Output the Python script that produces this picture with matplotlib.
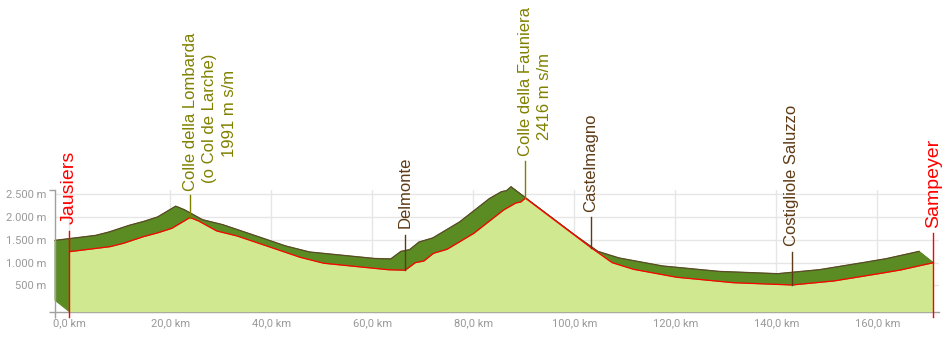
import numpy as np
import matplotlib
matplotlib.use("Agg")
import matplotlib.pyplot as plt
from matplotlib import transforms
from matplotlib.collections import PolyCollection

# ---------------- data ----------------
dist_km = [0.0, 8.05, 10.7, 14.65, 17.6, 20.3, 23.9, 25.6, 29.2, 33.2, 39.1, 45.7,
           50.4, 63.2, 66.5, 68.5, 70.2, 72.1, 74.8, 80.1, 86.0, 88.4, 89.4, 90.3,
           103.2, 107.5, 111.7, 120.3, 131.5, 143.1, 151.4, 159.9, 164.6, 171.1]
elev_m = [1241, 1351, 1425, 1570, 1658, 1754, 1991, 1914, 1695, 1586, 1366, 1118,
          987, 845, 835, 1000, 1037, 1206, 1294, 1645, 2156, 2309, 2331, 2416,
          1338, 1000, 855, 680, 561, 511, 599, 752, 840, 1000]

x_ticks_km = [0, 20, 40, 60, 80, 100, 120, 140, 160]
y_ticks_m = [500, 1000, 1500, 2000, 2500]

place_names = ["Jausiers",
               ["Colle della Lombarda", "(o Col de Larche)", "1991 m s/m"],
               "Delmonte",
               ["Colle della Fauniera", "2416 m s/m"],
               "Castelmagno",
               "Costigliole Saluzzo",
               "Sampeyer"]
place_km = [0.0, 24.0, 66.5, 90.3, 103.3, 143.1, 171.1]

# ---------------- style / layout ----------------
W, H, DPI = 953, 342, 100
LIGHT = "#d0e88f"
DARK = "#5b8b23"
EDGE = "#5a4a28"
RED = "#ff0000"
OLIVE = "#808000"
BROWN = "#5e3b17"
GRID = "#e6e6e6"
AXC = "#a0a0a0"
TICKC = "#999999"

# per label: color, fontsize, text-bottom pixel(s) (from top), line top pixel, line to bottom?
label_layout = [
    dict(color=RED, size=14, bottoms=[224.5], line_top=230.5, to_base=True),
    dict(color=OLIVE, size=12, bottoms=[191, 183, 157], line_top=195, to_base=False),
    dict(color=BROWN, size=12, bottoms=[228.5], line_top=235, to_base=False),
    dict(color=OLIVE, size=12, bottoms=[156, 140], line_top=161, to_base=False),
    dict(color=BROWN, size=12, bottoms=[212], line_top=217, to_base=False),
    dict(color=BROWN, size=12, bottoms=[245.5], line_top=251.5, to_base=False),
    dict(color=RED, size=14, bottoms=[228.5], line_top=233, to_base=True),
]
LINE_STEP_PX = 19.3

XLIM = (-2.83, 172.28)
YLIM = (-75, 2594)
SHIFT_X, SHIFT_Y = -2.83, 248

fig = plt.figure(figsize=(W / DPI, H / DPI), dpi=DPI)
ax = fig.add_axes([55 / W, (H - 311.7) / H, (939.3 - 55) / W, (311.7 - 190) / H])
ax.set_xlim(*XLIM)
ax.set_ylim(*YLIM)

x = np.asarray(dist_km, float)
y = np.asarray(elev_m, float)
y0 = YLIM[0]

# grid
ax.set_xticks(x_ticks_km)
ax.set_yticks(y_ticks_m)
ax.grid(True, color=GRID, lw=1, zorder=0)
ax.set_axisbelow(True)

# extruded (dark) band
quads = []
for i in range(len(x) - 1):
    quads.append([(x[i], y[i]), (x[i + 1], y[i + 1]),
                  (x[i + 1] + SHIFT_X, y[i + 1] + SHIFT_Y), (x[i] + SHIFT_X, y[i] + SHIFT_Y)])
quads.append([(x[0], y0), (x[0], y[0]), (x[0] + SHIFT_X, y[0] + SHIFT_Y), (x[0] + SHIFT_X, y0 + SHIFT_Y)])
quads.append([(x[-1], y0), (x[-1], y[-1]), (x[-1] + SHIFT_X, y[-1] + SHIFT_Y), (x[-1] + SHIFT_X, y0 + SHIFT_Y)])
ax.fill_between(x + SHIFT_X, y0 + SHIFT_Y, y + SHIFT_Y, color=DARK, lw=0.5, zorder=1, clip_on=False)
ax.add_collection(PolyCollection(quads, facecolor=DARK, edgecolor=DARK, linewidth=0.6,
                                 zorder=1, clip_on=False))
ax.plot(x + SHIFT_X, y + SHIFT_Y, color=EDGE, lw=0.9, zorder=2, clip_on=False)

# main profile
ax.fill_between(x, y0, y, color=LIGHT, lw=0, zorder=3)
ax.plot(x, y, color=RED, lw=0.9, zorder=4)

# spines / ticks
for s in ("top", "right"):
    ax.spines[s].set_visible(False)
for s in ("left", "bottom"):
    ax.spines[s].set_color(AXC)
    ax.spines[s].set_linewidth(1)
ax.tick_params(axis="both", which="major", length=0, labelcolor=TICKC, labelsize=8)
ax.tick_params(axis="y", pad=6)
ax.tick_params(axis="x", pad=5)
ax.set_yticks([YLIM[0], YLIM[1]], minor=True)
ax.set_xticks([XLIM[0]], minor=True)
ax.tick_params(which="minor", length=4, color=AXC, width=1)
ax.set_yticklabels([f"{v:,.0f}".replace(",", ".") + " m" for v in y_ticks_m], family="Roboto")
ax.set_xticklabels([f"{v:.1f}".replace(".", ",") + " km" for v in x_ticks_km], family="Roboto")

# place labels
inv = ax.transData.inverted()
blend = transforms.blended_transform_factory(ax.transData, fig.transFigure)


def px_to_elev(ypx):
    return inv.transform((0, H - ypx))[1]


for name, km, lay in zip(place_names, place_km, label_layout):
    lines = name if isinstance(name, list) else [name]
    for i, (txt, b) in enumerate(zip(lines, lay["bottoms"])):
        tr = transforms.offset_copy(blend, fig=fig, x=i * LINE_STEP_PX, y=0, units="dots")
        ax.text(km, 1 - b / H, txt, transform=tr, rotation=90, ha="center", va="bottom",
                color=lay["color"], fontsize=lay["size"],
                family=["Liberation Sans", "DejaVu Sans"], clip_on=False, zorder=6)
    top_e = px_to_elev(lay["line_top"])
    bot_e = px_to_elev(316.5) if lay["to_base"] else np.interp(km, x, y)
    ax.plot([km, km], [top_e, bot_e], color=lay["color"], lw=1, clip_on=False, zorder=5)

fig.savefig("out.png", dpi=DPI)
